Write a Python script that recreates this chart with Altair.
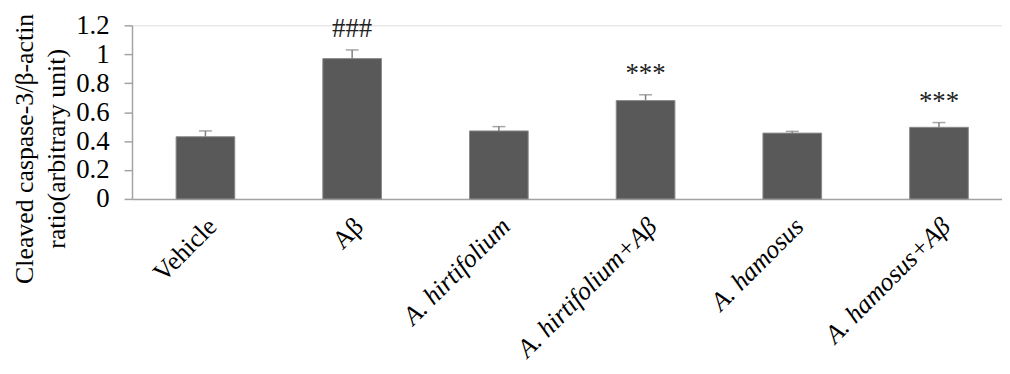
import altair as alt
import pandas as pd

groups = ["Vehicle", "Aβ", "A. hirtifolium", "A. hirtifolium+Aβ", "A. hamosus", "A. hamosus+Aβ"]
means = [0.43, 0.97, 0.47, 0.68, 0.455, 0.495]
errors = [0.04, 0.06, 0.03, 0.04, 0.012, 0.033]
sig_marks = ["", "###", "", "***", "", "***"]
y_ticks = [0, 0.2, 0.4, 0.6, 0.8, 1.0, 1.2]
y_title = ["Cleaved caspase-3/β-actin", "ratio(arbitrary unit)"]

df = pd.DataFrame({"group": groups, "mean": means, "err": errors, "sig": sig_marks})

FONT = "Liberation Serif"
AXIS_GRAY = "#a3a3a3"

x_axis = alt.Axis(
    labelAngle=-45,
    labelAlign="right",
    labelBaseline="top",
    labelPadding=14,
    labelOffset=-2,
    labelOverlap=False,
    labelLimit=400,
    ticks=False,
    domainColor=AXIS_GRAY,
    domainWidth=1.5,
    labelFont=FONT,
    labelFontSize=26,
    labelColor="black",
    labelFontStyle={
        "condition": {"test": "indexof(datum.label, 'A. ') === 0", "value": "italic"},
        "value": "normal",
    },
)
x_scale = alt.Scale(paddingInner=0.6, paddingOuter=0.265, align=0.567)

y_axis = alt.Axis(
    values=y_ticks,
    tickCount=7,
    format="~g",
    grid=False,
    tickSize=8,
    tickColor=AXIS_GRAY,
    tickWidth=1.5,
    domainColor=AXIS_GRAY,
    domainWidth=1.5,
    labelPadding=15,
    labelOverlap=False,
    labelFont=FONT,
    labelFontSize=27,
    labelColor="black",
    title=y_title,
    titleFont=FONT,
    titleFontSize=26,
    titleFontWeight="normal",
    titleColor="black",
    titleAngle=270,
    titleAlign="center",
    titleBaseline="alphabetic",
    titleLineHeight=32,
    titleX=-100,
    titleY=124,
)
y_scale = alt.Scale(domain=[0, 1.2], nice=False)


def xe():
    return alt.X("group:N", sort=groups, title=None, scale=x_scale, axis=x_axis)


def ye(field):
    return alt.Y(field, scale=y_scale, axis=y_axis)


base = alt.Chart(df).transform_calculate(top="datum.mean + datum.err")

bars = base.mark_bar(color="#595959", stroke="#8c8c8c", strokeWidth=1).encode(
    x=xe(), y=ye("mean:Q")
)

whisker = base.mark_rule(color="#808080", strokeWidth=1.5).encode(
    x=xe(),
    y=ye("mean:Q"),
    y2=alt.Y2("top:Q"),
)

caps = base.mark_tick(color="#808080", thickness=1.5, size=13, orient="horizontal").encode(
    x=xe(),
    y=ye("top:Q"),
)

labels = base.mark_text(
    baseline="alphabetic", dy=-13, font=FONT, fontSize=27, color="#222222"
).encode(
    x=xe(),
    y=ye("top:Q"),
    text="sig:N",
)

chart = (
    alt.layer(bars, whisker, caps, labels)
    .properties(
        width=877,
        height=175,
        autosize=alt.AutoSizeParams(type="none"),
        padding={"left": 125, "top": 16, "right": 0, "bottom": 175},
    )
    .configure_view(stroke=None)
    .configure(background="white")
)

chart.save("out.html", embed_options={"renderer": "svg", "actions": False})
